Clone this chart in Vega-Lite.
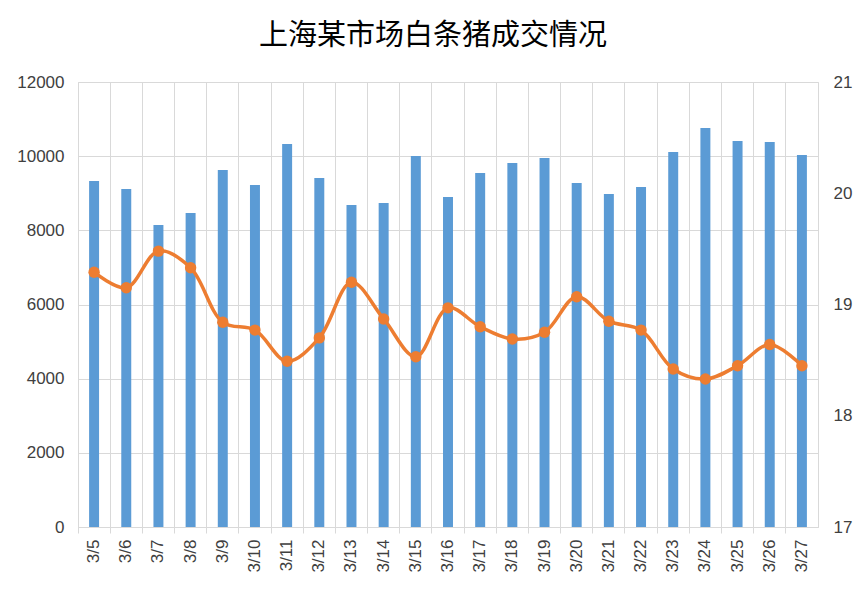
{
  "$schema": "https://vega.github.io/schema/vega-lite/v6.json",
  "autosize": {"type": "none"},
  "width": 740,
  "height": 445,
  "padding": {"left": 78, "top": 82, "right": 49, "bottom": 62},
  "background": "white",
  "title": {
    "text": "上海某市场白条猪成交情况",
    "font": "Noto Sans CJK SC",
    "fontSize": 29,
    "fontWeight": "normal",
    "color": "#000000",
    "anchor": "middle",
    "dx": -15,
    "offset": 22
  },
  "config": {
    "view": {"stroke": "#D9D9D9", "strokeWidth": 1},
    "axis": {
      "labelFont": "Liberation Sans",
      "labelFontSize": 17,
      "labelColor": "#404040",
      "gridColor": "#D9D9D9",
      "domainColor": "#D9D9D9",
      "tickColor": "#D9D9D9"
    }
  },
  "data": {
    "values": [
      {"date": "3/5", "volume": 9330, "price": 19.29},
      {"date": "3/6", "volume": 9115, "price": 19.15},
      {"date": "3/7", "volume": 8144, "price": 19.48},
      {"date": "3/8", "volume": 8467, "price": 19.33},
      {"date": "3/9", "volume": 9627, "price": 18.84},
      {"date": "3/10", "volume": 9222, "price": 18.77},
      {"date": "3/11", "volume": 10328, "price": 18.49},
      {"date": "3/12", "volume": 9411, "price": 18.70},
      {"date": "3/13", "volume": 8683, "price": 19.20},
      {"date": "3/14", "volume": 8737, "price": 18.87},
      {"date": "3/15", "volume": 10004, "price": 18.53},
      {"date": "3/16", "volume": 8899, "price": 18.97},
      {"date": "3/17", "volume": 9546, "price": 18.80},
      {"date": "3/18", "volume": 9816, "price": 18.69},
      {"date": "3/19", "volume": 9951, "price": 18.75},
      {"date": "3/20", "volume": 9276, "price": 19.07},
      {"date": "3/21", "volume": 8980, "price": 18.85},
      {"date": "3/22", "volume": 9169, "price": 18.77},
      {"date": "3/23", "volume": 10112, "price": 18.42},
      {"date": "3/24", "volume": 10760, "price": 18.33},
      {"date": "3/25", "volume": 10409, "price": 18.45},
      {"date": "3/26", "volume": 10382, "price": 18.64},
      {"date": "3/27", "volume": 10031, "price": 18.45}
    ]
  },
  "encoding": {
    "x": {
      "field": "date",
      "type": "nominal",
      "sort": null,
      "scale": {"paddingInner": 0, "paddingOuter": 0},
      "axis": {
        "title": null,
        "labelAngle": -90,
        "bandPosition": 0,
        "grid": true,
        "ticks": true,
        "tickSize": 6,
        "labelPadding": 6,
        "domain": true
      }
    }
  },
  "layer": [
    {
      "mark": {"type": "bar", "color": "#5B9BD5", "width": {"band": 0.31}},
      "encoding": {
        "y": {
          "field": "volume",
          "type": "quantitative",
          "scale": {"domain": [0, 12000], "nice": false},
          "axis": {
            "title": null,
            "orient": "left",
            "values": [0, 2000, 4000, 6000, 8000, 10000, 12000],
            "domain": false,
            "ticks": false,
            "grid": true,
            "labelPadding": 14,
            "format": "d"
          }
        }
      }
    },
    {
      "mark": {
        "type": "line",
        "color": "#ED7D31",
        "strokeWidth": 3.5,
        "interpolate": "catmull-rom",
        "point": {"filled": true, "size": 130, "color": "#ED7D31"}
      },
      "encoding": {
        "y": {
          "field": "price",
          "type": "quantitative",
          "scale": {"domain": [17, 21], "nice": false, "zero": false},
          "axis": {
            "title": null,
            "orient": "right",
            "values": [17, 18, 19, 20, 21],
            "domain": false,
            "ticks": false,
            "grid": false,
            "labelPadding": 15
          }
        }
      }
    }
  ],
  "resolve": {"scale": {"y": "independent"}}
}
